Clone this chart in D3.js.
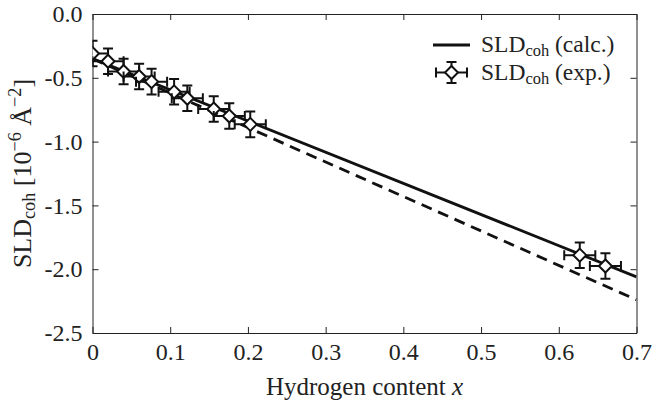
<!DOCTYPE html>
<html><head><meta charset="utf-8">
<script src="https://cdn.jsdelivr.net/npm/d3@7/dist/d3.min.js"></script>
<style>
body{margin:0;background:#fff;}
svg{display:block;}
text{font-family:"Liberation Serif","Times New Roman",serif;fill:#222;}
</style>
</head><body>
<svg id="c" width="653" height="407" font-family="Liberation Serif"></svg>
<script>
// ---- data ----
const hydrogen = [0.0, 0.02, 0.04, 0.06, 0.076, 0.105, 0.122, 0.156, 0.176, 0.203, 0.627, 0.660];
const sldExp   = [-0.31, -0.37, -0.45, -0.49, -0.53, -0.61, -0.66, -0.745, -0.80, -0.865, -1.89, -1.975];
const sldErr   = [0.10, 0.10, 0.10, 0.10, 0.10, 0.10, 0.10, 0.10, 0.10, 0.10, 0.10, 0.10];
const xErr     = [0.02, 0.02, 0.02, 0.02, 0.02, 0.02, 0.02, 0.02, 0.02, 0.02, 0.02, 0.02];
const calcX      = [0.0, 0.7];
const calcSolid  = [-0.35, -2.06];
const calcDashed = [-0.35, -2.24];
const xTicks = [0, 0.1, 0.2, 0.3, 0.4, 0.5, 0.6, 0.7];
const xTickLabels = ["0", "0.1", "0.2", "0.3", "0.4", "0.5", "0.6", "0.7"];
const yTicks = [0, -0.5, -1.0, -1.5, -2.0, -2.5];
const yTickLabels = ["0.0", "-0.5", "-1.0", "-1.5", "-2.0", "-2.5"];

// ---- layout ----
const L = 92.5, R = 636.5, T = 14, B = 333;
const svg = d3.select("#c");
const x = d3.scaleLinear().domain([0, 0.7]).range([L, R]);
const y = d3.scaleLinear().domain([-2.5, 0]).range([B, T]);
const ink = "#222";
const serif = '"Liberation Serif","Times New Roman",serif';

svg.append("defs").append("clipPath").attr("id", "clip")
  .append("rect").attr("x", L).attr("y", T).attr("width", R - L).attr("height", B - T);

const tickLen = 6;
const fmtX = d => xTickLabels[xTicks.indexOf(d)];
const fmtY = d => yTickLabels[yTicks.indexOf(d)];

function styleAxis(g) {
  g.attr("font-family", serif);
  g.select(".domain").attr("stroke", ink).attr("stroke-width", 1);
  g.selectAll(".tick line").attr("stroke", ink).attr("stroke-width", 1);
  g.selectAll(".tick text").attr("fill", ink).style("font-family", serif);
}

svg.append("g").attr("transform", `translate(0,${B})`)
  .call(d3.axisBottom(x).tickValues(xTicks).tickFormat(fmtX).tickSize(-tickLen).tickPadding(10).tickSizeOuter(0))
  .call(styleAxis).call(g => g.selectAll(".tick text").attr("font-size", 24));
svg.append("g").attr("transform", `translate(0,${T})`)
  .call(d3.axisTop(x).tickValues(xTicks).tickFormat("").tickSize(-tickLen).tickSizeOuter(0))
  .call(styleAxis);
svg.append("g").attr("transform", `translate(${L},0)`)
  .call(d3.axisLeft(y).tickValues(yTicks).tickFormat(fmtY).tickSize(-tickLen).tickPadding(10).tickSizeOuter(0))
  .call(styleAxis).call(g => g.selectAll(".tick text").attr("font-size", 24));
svg.append("g").attr("transform", `translate(${R},0)`)
  .call(d3.axisRight(y).tickValues(yTicks).tickFormat("").tickSize(-tickLen).tickSizeOuter(0))
  .call(styleAxis);

// ---- lines ----
const plot = svg.append("g").attr("clip-path", "url(#clip)");
const lineGen = vals => d3.line().x((d, i) => x(calcX[i])).y(d => y(d))(vals);
plot.append("path").attr("d", lineGen(calcSolid)).attr("fill", "none")
  .attr("stroke", "#111").attr("stroke-width", 2.8);
plot.append("path").attr("d", lineGen(calcDashed)).attr("fill", "none")
  .attr("stroke", "#111").attr("stroke-width", 2.8).attr("stroke-dasharray", "11,7");

// ---- error bars + markers ----
const cap = 5, dm = 6.5;
function drawPoint(g, cx, cy, x0, x1, y0, y1) {
  const seg = (a, b, c, d) => g.append("line").attr("x1", a).attr("y1", b).attr("x2", c).attr("y2", d)
    .attr("stroke", "#111").attr("stroke-width", 2);
  seg(cx, y0, cx, y1); seg(cx - cap, y0, cx + cap, y0); seg(cx - cap, y1, cx + cap, y1);
  seg(x0, cy, x1, cy); seg(x0, cy - cap, x0, cy + cap); seg(x1, cy - cap, x1, cy + cap);
  g.append("path").attr("d", `M${cx},${cy - dm}L${cx + dm},${cy}L${cx},${cy + dm}L${cx - dm},${cy}Z`)
    .attr("fill", "#fff").attr("stroke", "#111").attr("stroke-width", 2);
}
hydrogen.forEach((h, i) => {
  const g = plot.append("g");
  drawPoint(g, x(h), y(sldExp[i]), x(h - xErr[i]), x(h + xErr[i]), y(sldExp[i] + sldErr[i]), y(sldExp[i] - sldErr[i]));
});

// ---- legend ----
const leg = svg.append("g");
leg.append("line").attr("x1", 433).attr("x2", 470).attr("y1", 45).attr("y2", 45)
  .attr("stroke", "#111").attr("stroke-width", 2.8);
drawPoint(leg, 451.5, 72.5, 436, 467, 62, 83);
function sldLabel(t, xx, yy, tail, fs) {
  const tx = t.append("text").attr("x", xx).attr("y", yy).attr("font-size", fs);
  tx.append("tspan").text("SLD");
  tx.append("tspan").attr("font-size", fs * 0.7).attr("dy", fs * 0.15).text("coh");
  tx.append("tspan").attr("dy", -fs * 0.15).text(tail);
  return tx;
}
sldLabel(leg, 481, 52, "\u00A0(calc.)", 23.5);
sldLabel(leg, 481, 80, "\u00A0(exp.)", 23.5);

// ---- axis titles ----
const xt = svg.append("text").attr("x", (L + R) / 2).attr("y", 395).attr("text-anchor", "middle").attr("font-size", 25);
xt.append("tspan").text("Hydrogen content ");
xt.append("tspan").attr("font-style", "italic").text("x");

const fsY = 26;
const yt = svg.append("text").attr("transform", `translate(31,${(T + B) / 2}) rotate(-90)`)
  .attr("text-anchor", "middle").attr("font-size", fsY);
yt.append("tspan").text("SLD");
yt.append("tspan").attr("font-size", fsY * 0.7).attr("dy", fsY * 0.15).text("coh");
yt.append("tspan").attr("dy", -fsY * 0.15).text("\u00A0[10");
yt.append("tspan").attr("font-size", fsY * 0.7).attr("dy", -fsY * 0.4).text("\u22126");
yt.append("tspan").attr("dy", fsY * 0.4).text("\u00A0\u00C5");
yt.append("tspan").attr("font-size", fsY * 0.7).attr("dy", -fsY * 0.4).text("\u22122");
yt.append("tspan").attr("dy", fsY * 0.4).text("]");
</script>
</body></html>
